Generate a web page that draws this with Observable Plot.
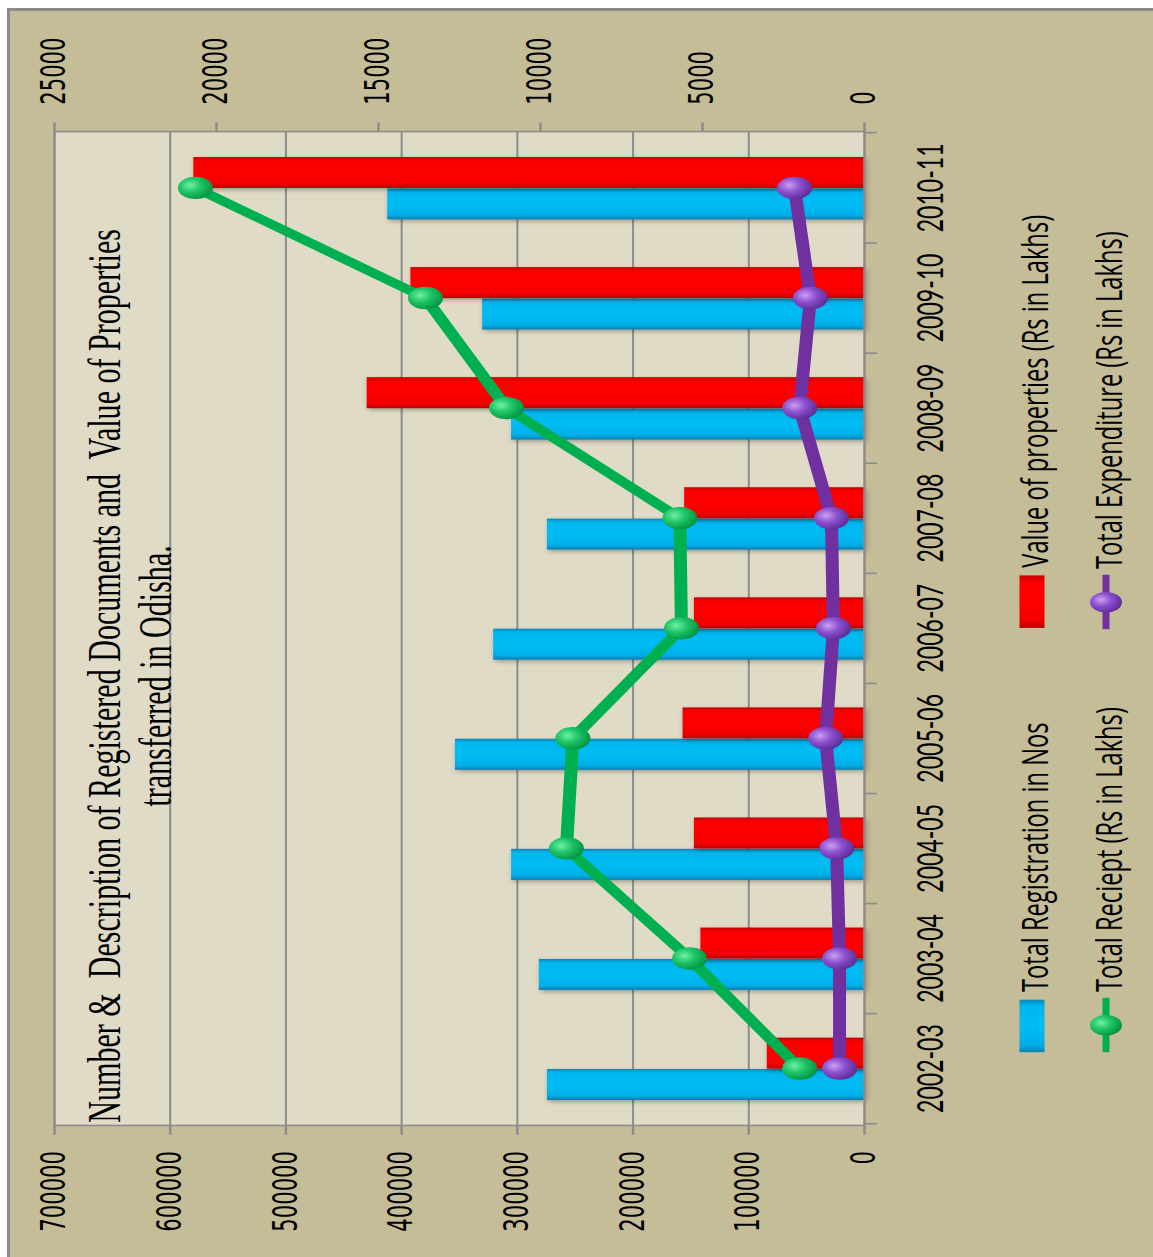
<!DOCTYPE html>
<html>
<head>
<meta charset="utf-8">
<script src="https://cdn.jsdelivr.net/npm/d3@7"></script>
<script src="https://cdn.jsdelivr.net/npm/@observablehq/plot@0.6"></script>
<style>
  html, body { margin: 0; padding: 0; width: 1153px; height: 1257px; overflow: hidden; background: #ffffff; }
  #bg { position: absolute; left: 7px; top: 8px; width: 1143px; height: 1246px; background: #c5bd98;
        border-left: 3px solid #8a8a8a; border-top: 3px solid #8a8a8a; }
  #chart { position: absolute; left: 0; top: 0; transform-origin: 0 0; }
</style>
</head>
<body>
<div id="bg"></div>
<div id="chart"></div>
<script>
// ---------------- data ----------------
const categories = ["2002-03", "2003-04", "2004-05", "2005-06", "2006-07", "2007-08", "2008-09", "2009-10", "2010-11"];
const registrations = [274000, 281000, 305000, 353500, 320500, 274000, 305000, 330000, 412000]; // Nos (left axis)
const propertyValues = [3000, 5050, 5250, 5600, 5250, 5550, 15350, 14000, 20700];             // Rs in Lakhs (right axis)
const receipts = [2000, 5400, 9200, 9000, 5650, 5700, 11050, 13550, 20650];                   // Rs in Lakhs (right axis)
const expenditures = [770, 770, 860, 1200, 960, 1020, 2000, 1670, 2160];                     // Rs in Lakhs (right axis)
const leftTicks = [0, 100000, 200000, 300000, 400000, 500000, 600000, 700000];
const rightTicks = [0, 5000, 10000, 15000, 20000, 25000];
const titleLines = ["Number &  Description of Registered Documents and  Value of Properties", "transferred in Odisha."];
const legendLabels = ["Total Registration in Nos", "Value of properties (Rs in Lakhs)", "Total Reciept (Rs in Lakhs)", "Total Expenditure (Rs in Lakhs)"];

// ---------------- layout (figure is drawn upright, then turned a quarter turn) ----------------
const S = 0.64;                       // horizontal squeeze of the original figure
const VW = Math.round(1257 / S);      // virtual width
const VH = 1153;                      // virtual height
const SVG_H = 1000;
const ML = 205, MR = VW - 1758, MT = 54, MB = SVG_H - 864;
const k = 700000 / 25000;             // secondary axis factor

const rows = categories.map((year, i) => ({
  year,
  reg: registrations[i],
  val: propertyValues[i] * k,
  rec: receipts[i] * k,
  exp: expenditures[i] * k
}));

const plotW = VW - ML - MR;
const bw = plotW / categories.length;
const barW = 49;
const grey = "#8c8c8c";

const chart = Plot.plot({
  width: VW,
  height: SVG_H,
  marginLeft: ML, marginRight: MR, marginTop: MT, marginBottom: MB,
  style: { background: "transparent", overflow: "visible", fontFamily: "DejaVu Sans", color: "#000" },
  x: { type: "band", domain: categories, padding: 0, label: null, axis: null },
  y: { domain: [0, 700000], label: null, axis: null },
  marks: [
    Plot.frame({ fill: "#dfdbc6", stroke: null }),
    Plot.ruleY(leftTicks.slice(1, -1), { stroke: grey, strokeWidth: 2 }),
    Plot.barY(rows, { x: "year", y: "reg", fill: "url(#gBlue)", insetLeft: bw / 2 - barW, insetRight: bw / 2 }),
    Plot.barY(rows, { x: "year", y: "val", fill: "url(#gRed)", insetLeft: bw / 2, insetRight: bw / 2 - barW }),
    Plot.frame({ stroke: grey, strokeWidth: 2.5 }),
    Plot.line(rows, { x: "year", y: "rec", stroke: "#00b050", strokeWidth: 13, strokeLinejoin: "round" }),
    Plot.dot(rows, { x: "year", y: "rec", r: 17.5, fill: "url(#gGreenDot)", stroke: null }),
    Plot.line(rows, { x: "year", y: "exp", stroke: "#7030a0", strokeWidth: 13, strokeLinejoin: "round" }),
    Plot.dot(rows, { x: "year", y: "exp", r: 17.5, fill: "url(#gPurpleDot)", stroke: null }),
    Plot.axisY(leftTicks, {
      anchor: "left", tickSize: 14, tickPadding: 26, tickFormat: d3.format("d"),
      fontSize: 33, fontFamily: "DejaVu Sans", stroke: grey, strokeWidth: 2.5, color: "#000", label: null
    }),
    Plot.axisY(rightTicks.map(v => v * k), {
      anchor: "right", tickSize: 14, tickPadding: 28, tickFormat: d => d3.format("d")(Math.round(d / k)),
      fontSize: 33, fontFamily: "DejaVu Sans", stroke: grey, strokeWidth: 2.5, color: "#000", label: null
    }),
    Plot.axisX({ anchor: "bottom", tickSize: 0, tickPadding: 53, fontSize: 36, fontFamily: "Lato", color: "#000", label: null }),
    Plot.ruleX(categories, { x: d => d, dx: -bw / 2, y1: 0, y2: 0, insetBottom: -13, stroke: grey, strokeWidth: 2.5 }),
    Plot.ruleX(categories.slice(-1), { x: d => d, dx: bw / 2, y1: 0, y2: 0, insetBottom: -13, stroke: grey, strokeWidth: 2.5 }),
    Plot.text([titleLines.join("\n")], {
      text: d => d, frameAnchor: "top", dx: -74, dy: 29, lineAnchor: "top",
      fontSize: 47, fontFamily: "Liberation Serif", lineHeight: 1.085, fill: "#000"
    })
  ]
});

// gradients
const defs = d3.select(chart).insert("defs", ":first-child");
function lin(id, stops) {
  const g = defs.append("linearGradient").attr("id", id).attr("x1", 0).attr("x2", 1).attr("y1", 0).attr("y2", 0);
  stops.forEach(([o, c]) => g.append("stop").attr("offset", o).attr("stop-color", c));
}
function rad(id, stops) {
  const g = defs.append("radialGradient").attr("id", id).attr("cx", 0.62).attr("cy", 0.35).attr("r", 0.7);
  stops.forEach(([o, c]) => g.append("stop").attr("offset", o).attr("stop-color", c));
}
lin("gBlue", [[0, "#0b7fb0"], [0.14, "#00aee8"], [0.5, "#00bdf4"], [0.88, "#00b6ef"], [1, "#0a86b6"]]);
lin("gRed", [[0, "#b80000"], [0.14, "#f20000"], [0.5, "#ff0000"], [0.88, "#fb0000"], [1, "#c00000"]]);
rad("gGreenDot", [[0, "#6ff0a8"], [0.45, "#1fc466"], [1, "#009040"]]);
rad("gPurpleDot", [[0, "#c9a0f0"], [0.45, "#8c50d0"], [1, "#5a2a90"]]);

d3.select(chart).selectAll('g[aria-label="bar"]').style("filter", "drop-shadow(-3px 2px 3px rgba(0,0,0,0.3))");
d3.select(chart).selectAll('g[aria-label="text"] text').style("white-space", "pre");

const container = document.getElementById("chart");
container.style.width = VW + "px";
container.style.height = VH + "px";
container.style.transform = `translate(0px, 1257px) rotate(-90deg) scaleX(${S})`;
container.appendChild(chart);

// legend (below the plot, in the same upright frame)
const leg = d3.select(container).append("svg")
  .attr("width", VW).attr("height", VH - SVG_H)
  .style("position", "absolute").style("left", "0px").style("top", SVG_H + "px").style("overflow", "visible");
const legFont = "Open Sans";
const items = [
  { kind: "bar", fill: "url(#gBlue)", x: 320, y: 32, label: legendLabels[0] },
  { kind: "bar", fill: "url(#gRed)", x: 983, y: 32, label: legendLabels[1] },
  { kind: "line", stroke: "#00b050", dot: "url(#gGreenDot)", x: 320, y: 106, label: legendLabels[2] },
  { kind: "line", stroke: "#7030a0", dot: "url(#gPurpleDot)", x: 981, y: 106, label: legendLabels[3] }
];
items.forEach(it => {
  if (it.kind === "bar") {
    leg.append("rect").attr("x", it.x).attr("y", it.y - 12.5).attr("width", 82).attr("height", 25).attr("fill", it.fill);
  } else {
    leg.append("line").attr("x1", it.x).attr("x2", it.x + 85).attr("y1", it.y).attr("y2", it.y)
      .attr("stroke", it.stroke).attr("stroke-width", 7);
    leg.append("circle").attr("cx", it.x + 42).attr("cy", it.y).attr("r", 16).attr("fill", it.dot);
  }
  leg.append("text").attr("x", it.x + 94).attr("y", it.y + 2).attr("dominant-baseline", "central")
    .attr("font-family", legFont).attr("font-size", 37).attr("fill", "#000").text(it.label);
});
</script>
</body>
</html>
